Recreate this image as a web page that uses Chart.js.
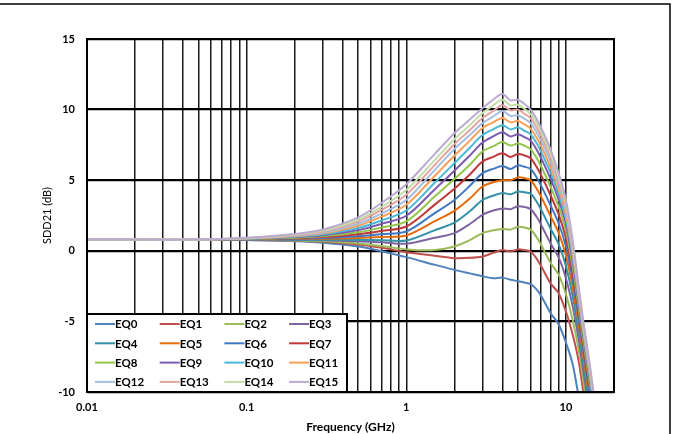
<!DOCTYPE html>
<html>
<head>
<meta charset="utf-8">
<script src="https://cdn.jsdelivr.net/npm/chart.js@4.4.1/dist/chart.umd.min.js"></script>
<style>
  html, body { margin: 0; padding: 0; background: #fff; }
  #wrap { width: 673px; height: 434px; }
</style>
</head>
<body>
<div id="wrap"><canvas id="sdd21Chart" width="673" height="434"></canvas></div>
<script>
// frequences (GHz)
const freqGHz = [0.01, 0.05, 0.1, 0.2, 0.3, 0.5, 0.7, 1, 1.5, 2, 2.5, 3, 3.5, 4, 4.5, 5, 5.5, 6, 6.5, 7, 8, 9, 10, 11, 12, 13, 14, 15];

// SDD21 (dB) par reglage EQ
const eq0 = [0.8, 0.8, 0.76, 0.68, 0.57, 0.3, -0.03, -0.45, -0.98, -1.35, -1.6, -1.8, -1.95, -1.9, -2.05, -2.15, -2.25, -2.35, -2.7, -3.2, -4.4, -5.2, -6.5, -8.0, -10.3, null, null, null];
const eq1 = [0.8, 0.8, 0.77, 0.71, 0.64, 0.44, 0.21, -0.1, -0.35, -0.52, -0.5, -0.4, -0.15, 0.05, -0.05, 0.1, 0.05, -0.05, -0.5, -1.1, -2.3, -3.0, -4.3, -5.9, -7.8, -10.4, null, null];
const eq2 = [0.8, 0.8, 0.78, 0.73, 0.67, 0.52, 0.34, 0.1, 0.05, 0.3, 0.75, 1.25, 1.45, 1.55, 1.5, 1.7, 1.65, 1.5, 1.02, 0.41, -0.84, -1.69, -3.08, -4.87, -6.98, -9.63, -12.0, null];
const eq3 = [0.8, 0.8, 0.79, 0.77, 0.75, 0.68, 0.6, 0.5, 0.92, 1.25, 1.9, 2.55, 2.85, 3.0, 2.95, 3.15, 3.1, 2.95, 2.46, 1.83, 0.54, -0.46, -1.94, -3.9, -6.22, -8.9, -11.3, null];
const eq4 = [0.8, 0.8, 0.8, 0.79, 0.79, 0.77, 0.75, 0.73, 1.45, 2.0, 2.8, 3.6, 3.9, 4.1, 4.0, 4.2, 4.15, 4.05, 3.54, 2.9, 1.58, 0.47, -1.08, -3.17, -5.64, -8.36, -10.76, null];
const eq5 = [0.8, 0.8, 0.81, 0.83, 0.85, 0.91, 0.98, 1.08, 2.08, 2.83, 3.7, 4.55, 4.85, 5.0, 5.0, 5.2, 5.15, 5.0, 4.47, 3.82, 2.47, 1.27, -0.33, -2.54, -5.14, -7.89, -10.29, null];
const eq6 = [0.8, 0.8, 0.82, 0.86, 0.9, 1.03, 1.18, 1.37, 2.65, 3.6, 4.6, 5.5, 5.8, 6.0, 5.8, 6.05, 5.95, 5.8, 5.26, 4.6, 3.23, 1.95, 0.3, -2.0, -4.72, -7.49, -9.89, -12.3];
const eq7 = [0.8, 0.8, 0.83, 0.89, 0.97, 1.17, 1.41, 1.72, 3.25, 4.39, 5.4, 6.32, 6.65, 6.9, 6.65, 6.85, 6.75, 6.55, 6.0, 5.34, 3.94, 2.58, 0.89, -1.5, -4.32, -7.12, -9.52, -11.9];
const eq8 = [0.8, 0.8, 0.84, 0.93, 1.03, 1.31, 1.64, 2.08, 3.82, 5.08, 6.1, 7.03, 7.4, 7.7, 7.45, 7.6, 7.45, 7.2, 6.64, 5.97, 4.55, 3.13, 1.4, -1.07, -3.98, -6.8, -9.2, -11.6];
const eq9 = [0.8, 0.8, 0.85, 0.97, 1.1, 1.47, 1.91, 2.48, 4.33, 5.67, 6.75, 7.67, 8.1, 8.4, 8.1, 8.25, 8.05, 7.8, 7.23, 6.55, 5.12, 3.64, 1.87, -0.67, -3.66, -6.5, -8.9, -11.3];
const eq10 = [0.8, 0.8, 0.86, 1.0, 1.17, 1.62, 2.15, 2.85, 4.8, 6.2, 7.3, 8.2, 8.6, 8.9, 8.6, 8.75, 8.5, 8.25, 7.68, 6.99, 5.55, 4.02, 2.23, -0.37, -3.42, -6.27, -8.67, -11.1];
const eq11 = [0.8, 0.8, 0.87, 1.05, 1.24, 1.78, 2.42, 3.26, 5.28, 6.73, 7.8, 8.7, 9.1, 9.4, 9.1, 9.2, 8.95, 8.65, 8.07, 7.39, 5.93, 4.36, 2.54, -0.1, -3.21, -6.07, -8.47, -10.9];
const eq12 = [0.8, 0.8, 0.88, 1.08, 1.3, 1.92, 2.65, 3.6, 5.7, 7.2, 8.2, 9.04, 9.5, 9.9, 9.55, 9.6, 9.35, 9.05, 8.46, 7.77, 6.3, 4.69, 2.85, 0.16, -3.0, -5.88, -8.28, -10.75];
const eq13 = [0.8, 0.8, 0.9, 1.12, 1.37, 2.07, 2.89, 3.97, 6.05, 7.55, 8.55, 9.4, 9.9, 10.3, 9.95, 10.0, 9.7, 9.4, 8.81, 8.11, 6.63, 4.99, 3.13, 0.4, -2.82, -5.7, -8.1, -10.6];
const eq14 = [0.8, 0.8, 0.9, 1.15, 1.43, 2.2, 3.11, 4.3, 6.4, 7.9, 8.9, 9.75, 10.3, 10.7, 10.3, 10.35, 10.05, 9.7, 9.1, 8.41, 6.92, 5.25, 3.36, 0.6, -2.66, -5.55, -7.95, -10.45];
const eq15 = [0.8, 0.8, 0.92, 1.19, 1.51, 2.37, 3.39, 4.72, 6.83, 8.33, 9.3, 10.1, 10.7, 11.1, 10.65, 10.7, 10.4, 10.0, 9.4, 8.7, 7.2, 5.5, 3.6, 0.8, -2.5, -5.4, -7.8, -10.3];

const seriesLabels = ['EQ0', 'EQ1', 'EQ2', 'EQ3', 'EQ4', 'EQ5', 'EQ6', 'EQ7', 'EQ8', 'EQ9', 'EQ10', 'EQ11', 'EQ12', 'EQ13', 'EQ14', 'EQ15'];
const seriesValues = [eq0, eq1, eq2, eq3, eq4, eq5, eq6, eq7, eq8, eq9, eq10, eq11, eq12, eq13, eq14, eq15];
const seriesColors = ['#4f81bd', '#c0504d', '#9bbb59', '#8064a2', '#3391a8', '#e46c0a', '#4178c4', '#c0393a',
                      '#93c54b', '#7c5bb0', '#4bb8d8', '#f8a058', '#a4bde0', '#e4a4a2', '#c4dca8', '#bbaad0'];

// ticks des axes
const xGridValues = [0.01, 0.02, 0.03, 0.04, 0.05, 0.06, 0.07, 0.08, 0.09,
                     0.1, 0.2, 0.3, 0.4, 0.5, 0.6, 0.7, 0.8, 0.9,
                     1, 2, 3, 4, 5, 6, 7, 8, 9,
                     10, 20];
const xLabelValues = [0.01, 0.1, 1, 10];
const yMin = -10, yMax = 15, yStep = 5;

const FONT = 'Lato, "Open Sans", Arial, sans-serif';

//fond blanc + cadre exterieur + cadre du graphe :
const framePlugin = {
    id: 'framePlugin',
    beforeDraw(chart) {
        const ctx = chart.ctx;
        ctx.save();
        ctx.fillStyle = '#fff';
        ctx.fillRect(0, 0, chart.width, chart.height);
        ctx.restore();
    },
    afterDatasetsDraw(chart) {
        const ctx = chart.ctx;
        const a = chart.chartArea;
        ctx.save();
        ctx.strokeStyle = '#000';
        ctx.lineWidth = 2;
        ctx.strokeRect(a.left, a.top, a.right - a.left, a.bottom - a.top);
        // bord de l'image (haut et droite)
        ctx.lineWidth = 1.5;
        ctx.beginPath();
        ctx.moveTo(0, 4);
        ctx.lineTo(670, 4);
        ctx.lineTo(670, chart.height);
        ctx.stroke();
        ctx.restore();
    }
};

//legende dans le graphe, 4 colonnes :
const boxLegendPlugin = {
    id: 'boxLegendPlugin',
    afterDatasetsDraw(chart) {
        const ctx = chart.ctx;
        const a = chart.chartArea;
        const boxX = a.left, boxY = a.bottom - 78, boxW = 260, boxH = 78;
        ctx.save();
        ctx.fillStyle = '#fff';
        ctx.fillRect(boxX, boxY, boxW, boxH);
        ctx.strokeStyle = '#000';
        ctx.lineWidth = 2;
        ctx.strokeRect(boxX, boxY, boxW, boxH);

        ctx.font = 'bold 11.5px ' + FONT;
        ctx.textBaseline = 'middle';
        ctx.textAlign = 'left';
        seriesLabels.forEach((label, i) => {
            const col = i % 4;
            const row = Math.floor(i / 4);
            const x = boxX + 8 + col * 64.7;
            const y = boxY + 10 + row * 19.3;
            ctx.strokeStyle = seriesColors[i];
            ctx.lineWidth = 2;
            ctx.beginPath();
            ctx.moveTo(x, y);
            ctx.lineTo(x + 20, y);
            ctx.stroke();
            ctx.fillStyle = '#000';
            ctx.fillText(label, x + 20, y + 0.5);
        });
        ctx.restore();
    }
};

document.addEventListener('DOMContentLoaded', function () {
    const ctx = document.getElementById('sdd21Chart');

    const datasets = seriesLabels.map((label, i) => ({
        label: label,
        data: freqGHz.map((f, j) => ({ x: f, y: seriesValues[i][j] })),
        borderColor: seriesColors[i],
        backgroundColor: seriesColors[i],
        borderWidth: 2,
        pointRadius: 0,
        tension: 0.3,
        fill: false,
        order: seriesLabels.length - i
    }));

    const chart = new Chart(ctx, {
        type: 'line',
        data: { datasets: datasets },
        options: {
            responsive: false,
            animation: false,
            events: [],
            layout: { padding: { left: 0, top: 39, right: 59, bottom: 0 } },
            plugins: {
                legend: { display: false },
                tooltip: { enabled: false }
            },
            scales: {
                x: {
                    type: 'logarithmic',
                    min: 0.01,
                    max: 20,
                    afterBuildTicks: (axis) => {
                        axis.ticks = xGridValues.map(v => ({ value: v }));
                    },
                    afterFit: (axis) => { axis.height = 42; },
                    grid: { color: '#1a1a1a', lineWidth: 1.5, drawTicks: false },
                    border: { display: false },
                    ticks: {
                        autoSkip: false,
                        maxRotation: 0,
                        padding: 9,
                        color: '#000',
                        font: { family: FONT, size: 11, weight: 'bold' },
                        callback: (v) => xLabelValues.includes(v) ? String(v) : ''
                    },
                    title: {
                        display: true,
                        text: 'Frequency (GHz)',
                        color: '#000',
                        padding: { top: 0, bottom: 0 },
                        font: { family: FONT, size: 12, weight: 'bold' }
                    }
                },
                y: {
                    min: yMin,
                    max: yMax,
                    afterFit: (axis) => { axis.width = 87; },
                    grid: { color: '#000', lineWidth: 2.2, drawTicks: false },
                    border: { display: false },
                    ticks: {
                        stepSize: yStep,
                        padding: 12,
                        color: '#000',
                        font: { family: FONT, size: 11, weight: 'bold' }
                    },
                    title: {
                        display: true,
                        text: 'SDD21 (dB)',
                        color: '#000',
                        padding: { top: 41, bottom: 0 },
                        font: { family: FONT, size: 11, weight: 'normal' }
                    }
                }
            }
        },
        plugins: [framePlugin, boxLegendPlugin]
    });
});
</script>
</body>
</html>
